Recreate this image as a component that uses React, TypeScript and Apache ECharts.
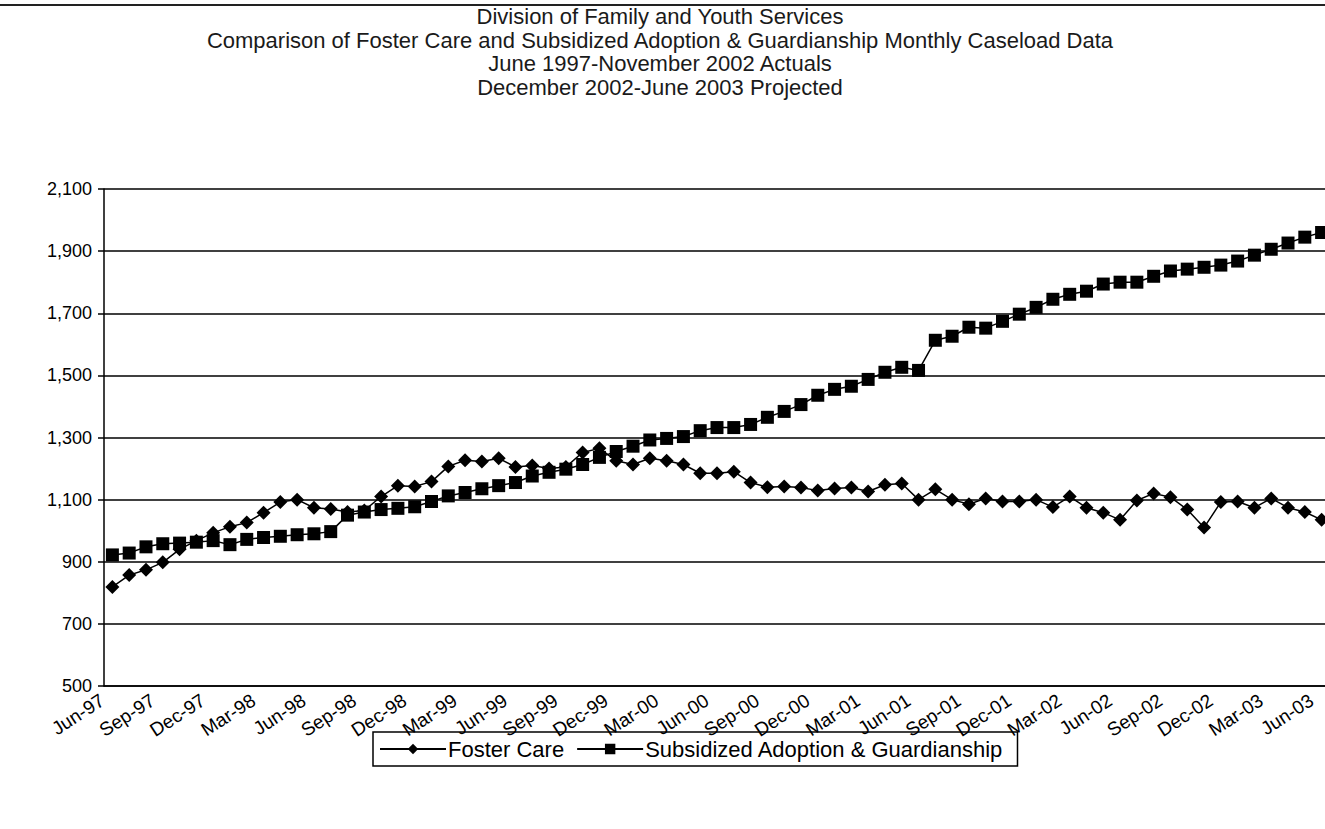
import React, { useEffect, useRef } from "react";
import * as echarts from "echarts";

const titleLines = [
  "Division of Family and Youth Services",
  "Comparison of Foster Care and Subsidized Adoption & Guardianship Monthly Caseload Data",
  "June 1997-November 2002 Actuals",
  "December 2002-June 2003 Projected",
];

const months = [
  "Jun-97","Jul-97","Aug-97","Sep-97","Oct-97","Nov-97","Dec-97","Jan-98","Feb-98",
  "Mar-98","Apr-98","May-98","Jun-98","Jul-98","Aug-98","Sep-98","Oct-98","Nov-98",
  "Dec-98","Jan-99","Feb-99","Mar-99","Apr-99","May-99","Jun-99","Jul-99","Aug-99",
  "Sep-99","Oct-99","Nov-99","Dec-99","Jan-00","Feb-00","Mar-00","Apr-00","May-00",
  "Jun-00","Jul-00","Aug-00","Sep-00","Oct-00","Nov-00","Dec-00","Jan-01","Feb-01",
  "Mar-01","Apr-01","May-01","Jun-01","Jul-01","Aug-01","Sep-01","Oct-01","Nov-01",
  "Dec-01","Jan-02","Feb-02","Mar-02","Apr-02","May-02","Jun-02","Jul-02","Aug-02",
  "Sep-02","Oct-02","Nov-02","Dec-02","Jan-03","Feb-03","Mar-03","Apr-03","May-03",
  "Jun-03",
];

const fosterCare = [
  819, 857, 874, 898, 940, 968, 993, 1013, 1026,
  1058, 1092, 1100, 1074, 1070, 1060, 1065, 1110, 1145,
  1142, 1158, 1207, 1227, 1223, 1233, 1205, 1210, 1200,
  1205, 1252, 1265, 1225, 1213, 1233, 1225, 1213, 1185,
  1185, 1190, 1155, 1140, 1142, 1139, 1129, 1136, 1139,
  1126, 1148, 1152, 1100, 1133, 1100, 1085, 1104, 1094,
  1094, 1100, 1076, 1110, 1074, 1058, 1035, 1097, 1120,
  1108, 1068, 1010, 1092, 1094, 1074, 1104, 1074, 1060,
  1035,
];

const subsidized = [
  922, 928, 948, 958, 960, 963, 968, 955, 972,
  978, 982, 987, 990, 997, 1050, 1060, 1068, 1072,
  1077, 1094, 1112, 1123, 1135, 1145, 1155, 1176, 1188,
  1198, 1213, 1236, 1255, 1272, 1292, 1297, 1303, 1322,
  1332, 1332, 1342, 1365, 1384, 1406, 1436, 1455, 1465,
  1487, 1510, 1526, 1516, 1613, 1626, 1655, 1652, 1674,
  1697, 1719, 1745, 1761, 1771, 1794, 1800, 1800, 1819,
  1836, 1842, 1848, 1855, 1868, 1887, 1906, 1926, 1945,
  1960,
];

const FONT = "'Liberation Sans', Arial, sans-serif";

export default function App() {
  const ref = useRef<HTMLDivElement>(null);
  useEffect(() => {
    if (!ref.current) return;
    const chart = echarts.init(ref.current, null, { renderer: "svg" });
    chart.setOption({
      animation: false,
      backgroundColor: "#ffffff",
      textStyle: { fontFamily: FONT, color: "#000" },
      title: {
        text: titleLines.join("\n"),
        left: 660,
        textAlign: "center",
        top: 5,
        padding: 0,
        textStyle: {
          fontFamily: FONT,
          fontSize: 22,
          fontWeight: "normal",
          color: "#1a1a1a",
          lineHeight: 23.5,
        },
      },
      graphic: [
        {
          type: "line",
          shape: { x1: 0, y1: 5, x2: 1345, y2: 5 },
          style: { stroke: "#222", lineWidth: 2 },
        },
      ],
      legend: {
        left: 373,
        top: 732,
        padding: [6, 14, 6, 6],
        borderColor: "#000",
        borderWidth: 1.5,
        itemWidth: 66,
        itemHeight: 13,
        itemGap: 12,
        textStyle: { fontFamily: FONT, fontSize: 22, color: "#000", padding: [0, 0, 0, -3] },
        data: ["Foster Care", "Subsidized Adoption & Guardianship"],
      },
      grid: {
        left: 104,
        top: 189,
        width: 1226,
        bottom: 143,
        containLabel: false,
      },
      xAxis: {
        type: "category",
        data: months,
        boundaryGap: true,
        axisLine: { show: true, lineStyle: { color: "#000", width: 1.5 } },
        axisTick: { show: false },
        axisLabel: {
          interval: 2,
          rotate: 33,
          fontFamily: FONT,
          fontSize: 19,
          color: "#000",
          margin: 6,
          padding: [0, 12, 4, 0],
        },
        splitLine: { show: false },
      },
      yAxis: {
        type: "value",
        min: 500,
        max: 2100,
        interval: 200,
        axisLine: { show: true, lineStyle: { color: "#000", width: 1.5 } },
        axisTick: { show: true, inside: false, length: 6, lineStyle: { color: "#000", width: 1.5 } },
        axisLabel: {
          fontFamily: FONT,
          fontSize: 18,
          color: "#000",
          margin: 12,
          formatter: (v: number) => v.toLocaleString("en-US"),
        },
        splitLine: { show: true, lineStyle: { color: "#000", width: 1.5 } },
      },
      series: [
        {
          name: "Foster Care",
          type: "line",
          data: fosterCare,
          symbol: "diamond",
          symbolSize: 14,
          showAllSymbol: true,
          lineStyle: { color: "#000", width: 1.5 },
          itemStyle: { color: "#000" },
        },
        {
          name: "Subsidized Adoption & Guardianship",
          type: "line",
          data: subsidized,
          symbol: "rect",
          symbolSize: 13,
          showAllSymbol: true,
          lineStyle: { color: "#000", width: 1.5 },
          itemStyle: { color: "#000" },
        },
      ],
    });
    return () => chart.dispose();
  }, []);
  return (
    <div
      ref={ref}
      style={{ position: "fixed", left: 0, top: 0, width: 1345, height: 829, background: "#fff" }}
    />
  );
}
